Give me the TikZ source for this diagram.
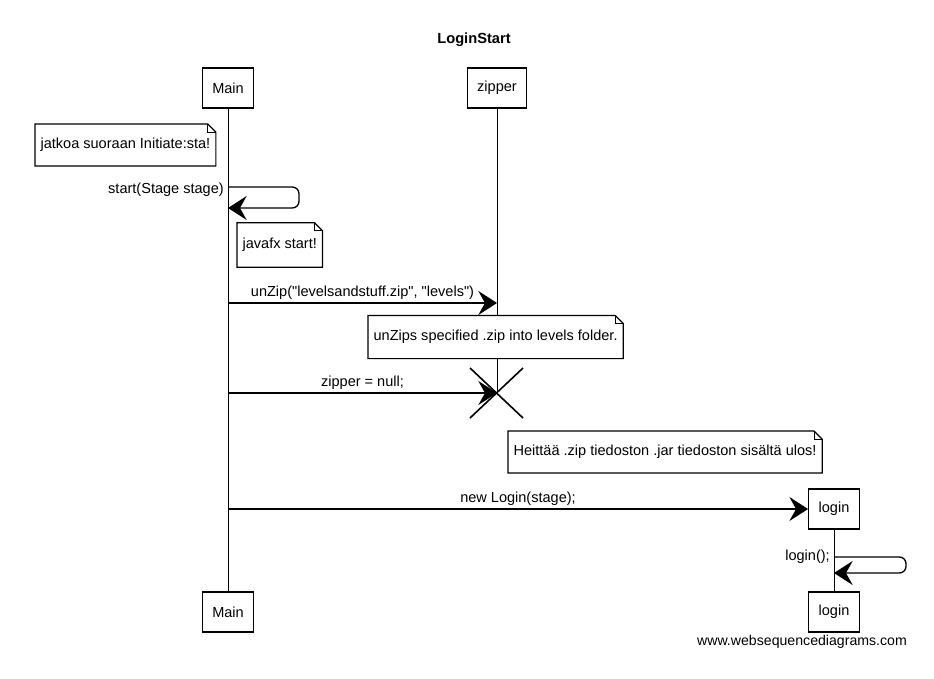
\documentclass[tikz,border=0pt]{standalone}
\usepackage{fontspec}
\setmainfont{Liberation Sans}
\usetikzlibrary{arrows.meta,calc}

\begin{document}
\begin{tikzpicture}[x=0.75pt,y=-0.75pt,
actor/.style={draw,line width=0.9pt,minimum height=30pt,inner xsep=7.5pt,font=\fontsize{10.9}{12}\selectfont},
note/.style={minimum height=31pt,inner xsep=4pt,anchor=west,font=\fontsize{10.9}{12}\selectfont},
life/.style={line width=0.75pt},
link/.style={line width=1pt,-{Stealth[length=14pt,width=18pt,inset=5pt]}},
msg/.style={above,inner sep=2pt,font=\fontsize{10.9}{12}\selectfont},
selflab/.style={left,inner sep=3pt,font=\fontsize{10.9}{12}\selectfont}]
	\useasboundingbox (0,0) rectangle (934,678);
	\def\fold{6pt}
	\def\q{\textquotedbl}
	\node[font=\bfseries\fontsize{11}{12}\selectfont] at (474,40) (title) {LoginStart};

	\node[actor] at (228,88) (main) {Main};
	\node[actor] at (497,88) (zip) {zipper};
	\node[actor] at (834,509) (login) {login};
	\node[actor] at (228,612) (mainb) {Main};
	\node[actor] at (834,612) (loginb) {login};
	\coordinate (kill) at (497,393);

	\draw[life] (main.south) -- (mainb.north);
	\draw[life] (zip.south) -- (kill);
	\draw[life] (login.south) -- (loginb.north);

	\node[note] at (35,145) (n1) {jatkoa suoraan Initiate:sta!};
	\node[note,minimum height=33pt] at (237,245) (n2) {javafx start!};
	\node[note,minimum height=32pt,fill=white] at (368,337) (n3) {unZips specified .zip into levels folder.};
	\node[note] at (508,452) (n4) {Heittää .zip tiedoston .jar tiedoston sisältä ulos!};
	\foreach \n in {n1,n2,n3,n4} {
		\draw[line width=0.9pt] (\n.north west) -- ([xshift=-\fold]\n.north east) -- ([yshift=-\fold]\n.north east) -- (\n.south east) -- (\n.south west) -- cycle;
		\draw[line width=0.6pt] ([xshift=-\fold]\n.north east) |- ([yshift=-\fold]\n.north east);
	}

	%start
	\coordinate (s1) at (main.south |- 0,187);
	\coordinate (s2) at (main.south |- 0,208);
	\node[selflab] at ([yshift=-2pt]s1) (l1) {start(Stage stage)};
	\draw[link,rounded corners=5pt] (s1) -- ++(71,0) -- ++(0,21) -- (s2);
	%unzip
	\coordinate (a2) at (main.south |- 0,303);
	\coordinate (b2) at (zip.south |- 0,303);
	\draw[link] (a2) -- node[msg] (l2) {unZip(\q levelsandstuff.zip\q, \q levels\q)} (b2);
	%destroy
	\coordinate (a3) at (main.south |- kill);
	\draw[link] (a3) -- node[msg] (l3) {zipper = null;} (kill);
	\draw[line width=1.2pt] ([shift={(-27,-25)}]kill) -- ([shift={(26,25)}]kill);
	\draw[line width=1.2pt] ([shift={(26,-25)}]kill) -- ([shift={(-27,25)}]kill);
	%create
	\coordinate (a4) at (main.south |- login.west);
	\draw[link] (a4) -- node[msg] (l4) {new Login(stage);} (login.west);
	%login
	\coordinate (s5) at (login.south |- 0,557);
	\coordinate (s6) at (login.south |- 0,573);
	\node[selflab] at (s5) (l5) {login();};
	\draw[link,rounded corners=5pt] (s5) -- ++(72,0) -- ++(0,16) -- (s6);

	\node[font=\fontsize{10.6}{12}\selectfont] at (802,642) (wsd) {www.websequencediagrams.com};
\end{tikzpicture}
\end{document}
